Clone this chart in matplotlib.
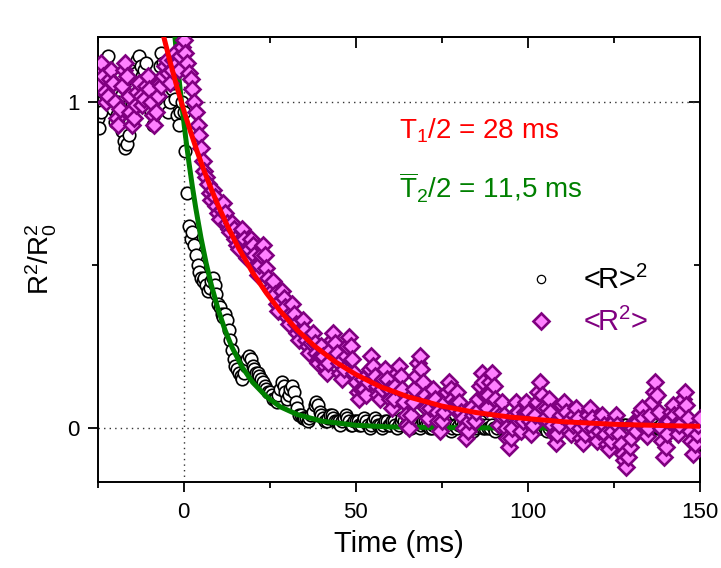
"""Relaxation of <R>^2 and <R^2> after the quench, with exponential fits."""
import matplotlib
matplotlib.use("Agg")
import matplotlib.pyplot as plt
import numpy as np
from matplotlib.ticker import MultipleLocator

plt.rcParams["font.family"] = ["Liberation Sans", "DejaVu Sans"]
plt.rcParams["mathtext.fontset"] = "custom"
plt.rcParams["mathtext.rm"] = "Liberation Sans"
plt.rcParams["mathtext.it"] = "Liberation Sans:italic"
plt.rcParams["mathtext.bf"] = "Liberation Sans:bold"

# --- data: sampled every 0.5 ms from -25 to 150 ms ---
time_ms = np.linspace(-25, 150, 351)

r_mean_sq = [
    0.95, 0.92, 0.97, 1.03, 1.08, 1.12, 1.14, 1.10, 1.04, 0.98,   # -25
    0.94, 0.96, 1.00, 0.96, 0.91, 0.88, 0.86, 0.87, 0.90, 0.94,   # -20
    0.99, 1.04, 1.09, 1.13, 1.14, 1.11, 1.08, 1.10, 1.12, 1.07,   # -15
    1.02, 0.97, 0.93, 0.96, 1.01, 1.06, 1.11, 1.15, 1.12, 1.07,   # -10
    1.02, 0.97, 1.00, 1.04, 1.06, 1.01, 0.96, 0.93, 0.97, 1.00,   # -5
    0.97, 0.85, 0.72, 0.62, 0.58, 0.60, 0.56, 0.53, 0.50, 0.48,   # 0
    0.46, 0.45, 0.46, 0.44, 0.42, 0.43, 0.45, 0.46, 0.44, 0.41,   # 5
    0.38, 0.37, 0.35, 0.34, 0.35, 0.33, 0.30, 0.27, 0.24, 0.21,   # 10
    0.19, 0.18, 0.17, 0.16, 0.15, 0.17, 0.19, 0.21, 0.22, 0.21,   # 15
    0.19, 0.18, 0.17, 0.17, 0.16, 0.15, 0.14, 0.13, 0.12, 0.11,   # 20
    0.11, 0.10, 0.09, 0.09, 0.08, 0.10, 0.12, 0.14, 0.13, 0.11,   # 25
    0.09, 0.10, 0.12, 0.13, 0.11, 0.08, 0.06, 0.04, 0.04, 0.03,   # 30
    0.03, 0.03, 0.02, 0.03, 0.04, 0.05, 0.07, 0.08, 0.07, 0.05,   # 35
    0.04, 0.03, 0.02, 0.02, 0.03, 0.04, 0.04, 0.03, 0.02, 0.02,   # 40
    0.02, 0.01, 0.02, 0.03, 0.04, 0.03, 0.02, 0.01, 0.01, 0.02,   # 45
    0.02, 0.02, 0.01, 0.01, 0.02, 0.03, 0.02, 0.01, 0.00, 0.01,   # 50
    0.02, 0.03, 0.02, 0.01, 0.01, 0.00, 0.01, 0.02, 0.02, 0.01,   # 55
    0.01, 0.02, 0.02, 0.01, 0.00, 0.01, 0.02, 0.03, 0.02, 0.01,   # 60
    0.01, 0.00, 0.00, 0.01, 0.02, 0.02, 0.01, 0.00, 0.01, 0.02,   # 65
    0.02, 0.01, 0.01, 0.00, 0.00, 0.01, 0.02, 0.02, 0.01, 0.00,   # 70
    0.00, 0.01, 0.02, 0.01, 0.00, -0.01, 0.00, 0.01, 0.01, 0.00,  # 75
    0.01, 0.02, 0.01, 0.00, 0.00, 0.01, 0.01, 0.00, -0.01, 0.00,  # 80
    0.01, 0.02, 0.02, 0.01, 0.00, 0.00, 0.01, 0.00, 0.00, 0.01,   # 85
    0.00, -0.01, 0.00, 0.01, 0.01, 0.00, 0.00, 0.01, 0.02, 0.01,  # 90
    0.00, 0.00, 0.01, 0.00, -0.01, 0.00, 0.01, 0.01, 0.00, 0.00,  # 95
    0.01, 0.01, 0.00, 0.00, 0.01, 0.02, 0.01, 0.00, 0.00, 0.01,   # 100
    0.00, -0.01, 0.00, 0.01, 0.01, 0.00, 0.01, 0.02, 0.01, 0.00,  # 105
    0.00, 0.01, 0.00, 0.00, 0.01, 0.01, 0.00, -0.01, 0.00, 0.01,  # 110
    0.01, 0.00, 0.00, 0.01, 0.02, 0.01, 0.00, 0.00, 0.01, 0.00,   # 115
    0.00, 0.01, 0.01, 0.00, -0.01, 0.00, 0.01, 0.00, 0.00, 0.01,  # 120
    0.01, 0.00, 0.00, 0.01, 0.00, 0.00, 0.01, 0.01, 0.00, 0.00,   # 125
    0.01, 0.00, -0.01, 0.00, 0.01, 0.01, 0.00, 0.00, 0.01, 0.00,  # 130
    0.00, 0.01, 0.00, 0.00, 0.01, 0.00, 0.00, 0.01, 0.00, 0.00,   # 135
    0.01, 0.00, 0.00, 0.01, 0.00, -0.01, 0.00, 0.01, 0.00, 0.00,  # 140
    0.00, 0.01, 0.00, 0.00, 0.01, 0.00, 0.00, 0.00, 0.01, 0.00,   # 145
    0.00,                                                         # 150
]

r_sq_mean = [
    1.05, 1.10, 1.12, 1.08, 1.03, 1.00, 1.02, 1.07, 1.10, 1.06,   # -25
    1.00, 0.95, 0.93, 0.98, 1.05, 1.10, 1.12, 1.08, 1.02, 0.97,   # -20
    0.93, 0.95, 0.99, 1.03, 1.06, 1.02, 0.99, 1.01, 1.05, 1.08,   # -15
    1.04, 1.00, 0.96, 0.93, 0.97, 1.02, 1.06, 1.05, 1.08, 1.11,   # -10
    1.13, 1.09, 1.06, 1.10, 1.13, 1.15, 1.12, 1.10, 1.14, 1.17,   # -5
    1.19, 1.15, 1.12, 1.09, 1.07, 1.04, 1.00, 0.97, 0.93, 0.90,   # 0
    0.86, 0.82, 0.79, 0.77, 0.75, 0.72, 0.70, 0.73, 0.71, 0.68,   # 5
    0.66, 0.64, 0.67, 0.69, 0.66, 0.63, 0.61, 0.60, 0.63, 0.61,   # 10
    0.58, 0.56, 0.55, 0.58, 0.61, 0.58, 0.55, 0.52, 0.55, 0.58,   # 15
    0.56, 0.53, 0.50, 0.47, 0.50, 0.53, 0.56, 0.53, 0.49, 0.46,   # 20
    0.43, 0.42, 0.45, 0.41, 0.38, 0.36, 0.39, 0.42, 0.40, 0.37,   # 25
    0.34, 0.32, 0.35, 0.38, 0.35, 0.32, 0.29, 0.27, 0.30, 0.33,   # 30
    0.30, 0.27, 0.25, 0.23, 0.26, 0.29, 0.26, 0.23, 0.20, 0.22,   # 35
    0.25, 0.22, 0.19, 0.17, 0.20, 0.24, 0.27, 0.29, 0.26, 0.23,   # 40
    0.20, 0.17, 0.15, 0.18, 0.22, 0.25, 0.28, 0.25, 0.21, 0.17,   # 45
    0.14, 0.11, 0.09, 0.12, 0.15, 0.12, 0.10, 0.14, 0.18, 0.22,   # 50
    0.19, 0.16, 0.13, 0.10, 0.09, 0.12, 0.15, 0.18, 0.15, 0.12,   # 55
    0.09, 0.06, 0.09, 0.13, 0.17, 0.19, 0.16, 0.12, 0.08, 0.04,   # 60
    0.01, 0.00, 0.04, 0.08, 0.12, 0.16, 0.20, 0.22, 0.18, 0.14,   # 65
    0.10, 0.06, 0.03, 0.06, 0.09, 0.12, 0.09, 0.05, 0.02, -0.01,  # 70
    0.02, 0.05, 0.08, 0.11, 0.14, 0.12, 0.09, 0.06, 0.08, 0.11,   # 75
    0.08, 0.05, 0.03, 0.00, -0.03, -0.01, 0.02, 0.06, 0.04, 0.02, # 80
    0.05, 0.09, 0.13, 0.17, 0.14, 0.10, 0.06, 0.10, 0.14, 0.17,   # 85
    0.13, 0.09, 0.05, 0.01, 0.04, 0.08, 0.04, 0.00, -0.03, -0.06, # 90
    -0.03, 0.00, 0.04, 0.08, 0.05, 0.02, -0.01, 0.02, 0.05, 0.08, # 95
    0.05, 0.02, -0.02, 0.01, 0.04, 0.08, 0.11, 0.14, 0.10, 0.06,  # 100
    0.03, 0.06, 0.09, 0.05, 0.01, -0.02, -0.045, -0.02, 0.01, 0.04,  # 105
    0.07, 0.08, 0.05, 0.02, -0.01, -0.02, 0.01, 0.04, 0.06, 0.03,    # 110
    0.00, -0.03, -0.045, -0.02, 0.01, 0.04, 0.06, 0.03, 0.00, -0.02, # 115
    -0.04, -0.01, 0.02, 0.04, 0.01, -0.02, -0.05, -0.065, -0.04, -0.01,  # 120
    0.02, 0.04, 0.01, -0.02, -0.05, -0.08, -0.10, -0.12, -0.09, -0.06,  # 125
    -0.03, 0.00, 0.02, -0.01, 0.02, 0.05, 0.06, 0.03, 0.00, -0.025,    # 130
    0.00, 0.04, 0.08, 0.11, 0.14, 0.10, 0.05, 0.00, -0.04, -0.09,      # 135
    -0.06, -0.02, 0.02, 0.05, 0.07, 0.04, 0.01, -0.02, 0.01, 0.05,     # 140
    0.09, 0.11, 0.07, 0.03, -0.01, -0.04, -0.08, -0.05, -0.02, 0.01,   # 145
    0.03,                                                              # 150
]

# --- fitted curves ---
fit1_t = [-6, -4, -2, 0, 2, 4, 6, 8, 10, 13, 16, 20, 24, 28, 33, 38, 44, 50,
          57, 65, 75, 85, 95, 110, 125, 140, 150]
fit1_v = [1.208, 1.125, 1.047, 0.975, 0.908, 0.845, 0.787, 0.733, 0.682, 0.613,
          0.551, 0.477, 0.414, 0.359, 0.300, 0.251, 0.203, 0.164, 0.127, 0.096,
          0.067, 0.047, 0.033, 0.019, 0.011, 0.007, 0.005]

fit2_t = [-2.5, -1.5, -0.5, 0.5, 1.5, 2.5, 3.5, 5, 6.5, 8, 10, 12, 14, 17, 20,
          24, 28, 33, 40, 50, 60, 75, 90, 110, 150]
fit2_v = [1.193, 1.084, 0.986, 0.896, 0.815, 0.741, 0.674, 0.584, 0.506, 0.439,
          0.363, 0.300, 0.248, 0.186, 0.140, 0.096, 0.065, 0.041, 0.021, 0.008,
          0.003, 0.001, 0.000, 0.000, 0.000]

RED = "#ff0000"
GREEN = "#008000"
PURPLE = "#800080"
PINK = "#ff80ff"

fig = plt.figure(figsize=(7.21, 5.68), dpi=100)
ax = fig.add_axes([0.1355, 0.152, 0.8355, 0.783])

# reference lines
dot = dict(color="#333333", linestyle=(0, (1, 3)), linewidth=1.0, zorder=1)
ax.axhline(0, **dot)
ax.axhline(1, **dot)
ax.axvline(0, **dot)

ax.plot(time_ms, r_mean_sq, linestyle="none", marker="o", markersize=9,
        markerfacecolor="white", markeredgecolor="black", markeredgewidth=1.2,
        label=r"<R>$^2$", zorder=2)
ax.plot(fit2_t, fit2_v, color=GREEN, linewidth=3.6, zorder=3)
ax.plot(time_ms, r_sq_mean, linestyle="none", marker="D", markersize=8,
        markerfacecolor=PINK, markeredgecolor=PURPLE, markeredgewidth=1.9,
        label=r"<R$^2$>", zorder=4)
ax.plot(fit1_t, fit1_v, color=RED, linewidth=3.6, zorder=5)

ax.text(0.50, 0.79, r"T$_1$/2 = 28 ms", transform=ax.transAxes,
        color=RED, fontsize=20, va="center", ha="left")
ax.text(0.50, 0.66, r"$\overline{\mathrm{T}}_2$/2 = 11,5 ms", transform=ax.transAxes,
        color=GREEN, fontsize=20, va="center", ha="left")

leg = ax.legend(loc="center left", bbox_to_anchor=(0.695, 0.405), frameon=False,
                fontsize=21, handlelength=0.9, handletextpad=1.0, labelspacing=0.45,
                borderaxespad=0)
leg.get_texts()[0].set_color("black")
leg.get_texts()[1].set_color(PURPLE)
leg.legend_handles[0].set_markersize(6)
leg.legend_handles[0].set_markeredgewidth(0.9)
leg.legend_handles[1].set_markersize(8)

ax.set_xlim(-25, 150)
ax.set_ylim(-0.165, 1.2)
ax.xaxis.set_major_locator(MultipleLocator(50))
ax.xaxis.set_minor_locator(MultipleLocator(25))
ax.yaxis.set_major_locator(MultipleLocator(1))
ax.yaxis.set_minor_locator(MultipleLocator(0.5))
ax.tick_params(which="both", direction="out", labelsize=16, width=1.3)
ax.tick_params(which="major", length=7)
ax.tick_params(which="minor", length=4)
ax.tick_params(axis="x", pad=8)
ax.tick_params(axis="y", pad=6)

# mirrored ticks on top and right, pointing inward
top = ax.secondary_xaxis("top")
top.xaxis.set_major_locator(MultipleLocator(50))
top.xaxis.set_minor_locator(MultipleLocator(25))
top.tick_params(which="both", direction="in", labeltop=False, width=1.3)
top.tick_params(which="major", length=8)
top.tick_params(which="minor", length=4)
right = ax.secondary_yaxis("right")
right.yaxis.set_major_locator(MultipleLocator(1))
right.yaxis.set_minor_locator(MultipleLocator(0.5))
right.tick_params(which="both", direction="in", labelright=False, width=1.3)
right.tick_params(which="major", length=8)
right.tick_params(which="minor", length=4)

for sp in list(ax.spines.values()) + [top.spines["top"], right.spines["right"]]:
    sp.set_linewidth(1.4)

ax.set_xlabel("Time (ms)", fontsize=21, labelpad=5)
ax.set_ylabel(r"R$^2$/R$_0^2$", fontsize=20, labelpad=6)

fig.savefig("out.png", dpi=100)
